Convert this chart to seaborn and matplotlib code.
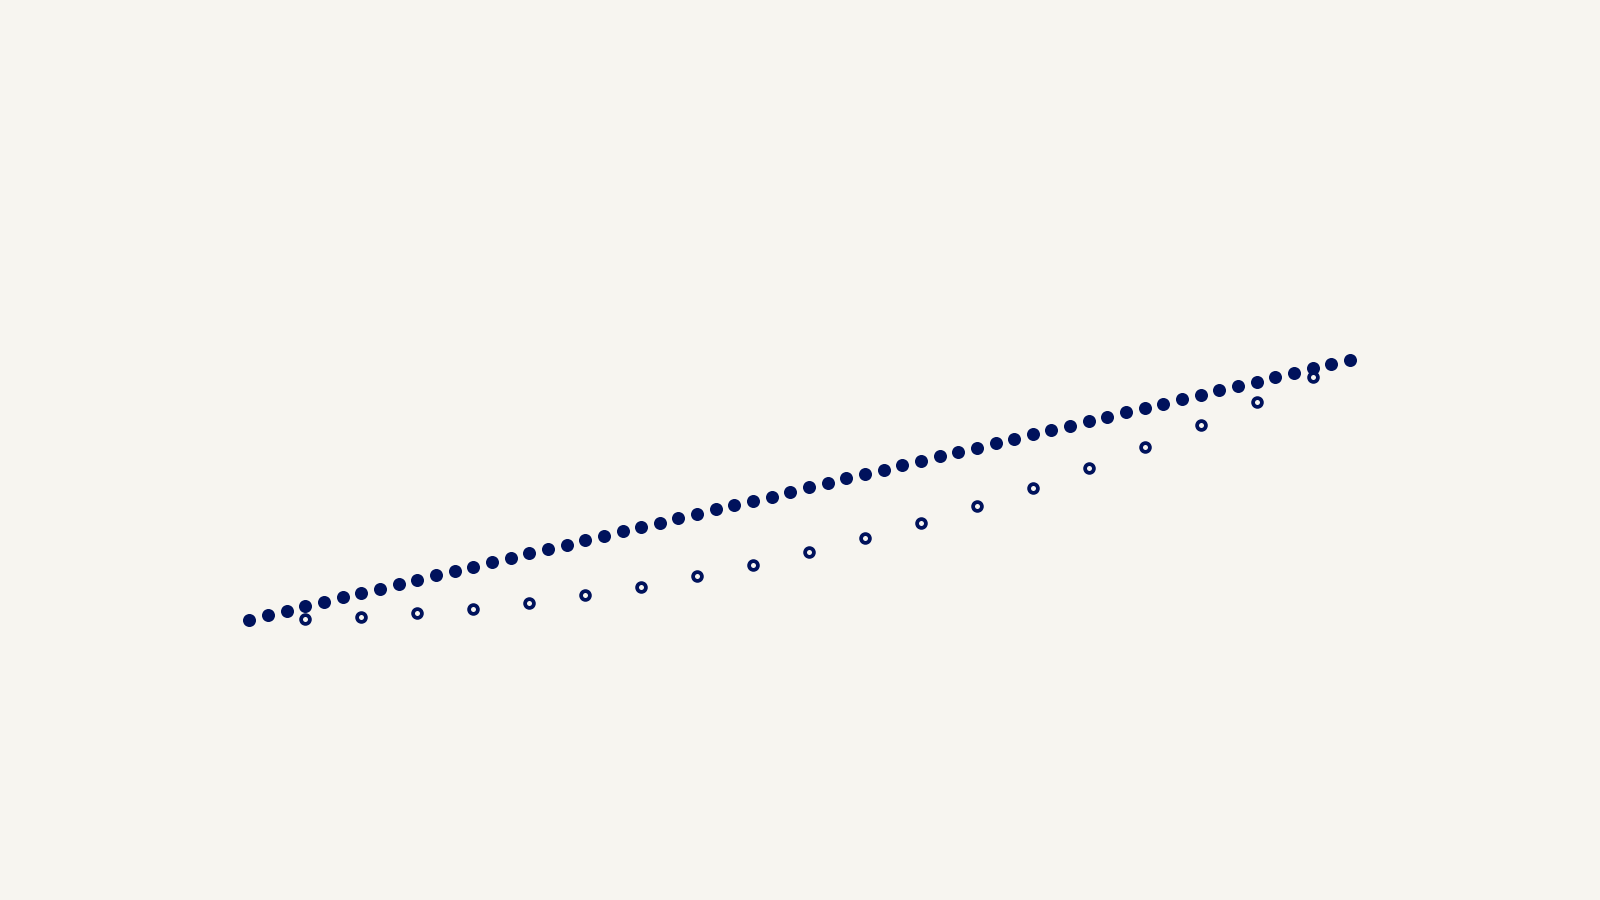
import matplotlib
matplotlib.use("Agg")
import matplotlib.pyplot as plt
import seaborn as sns
import numpy as np
import pandas as pd

# steady series: one point per step (0..59)
steady_step = list(range(60))
steady_level = [280.0, 284.7, 289.0, 294.3, 297.7, 302.7, 306.7, 310.7, 315.7, 320.0,
                324.7, 329.0, 333.0, 337.7, 341.7, 346.7, 351.0, 355.0, 360.0, 364.0,
                369.0, 373.0, 376.7, 381.7, 386.0, 390.7, 395.0, 398.7, 403.3, 407.7,
                412.7, 416.8, 421.7, 425.7, 429.7, 434.7, 438.7, 443.7, 447.7, 451.7,
                456.7, 460.7, 465.7, 469.7, 473.7, 478.7, 482.7, 487.7, 491.7, 495.7,
                500.7, 504.7, 509.7, 513.7, 517.7, 522.7, 526.7, 532.3, 535.7, 539.7]

# sampled series: every third step
sampled_step = list(range(3, 58, 3))
sampled_level = [281.0, 283.0, 287.3, 291.0, 297.0, 305.0, 312.7, 324.0, 335.0, 348.0,
                 362.0, 376.7, 393.7, 411.7, 431.7, 452.7, 474.7, 497.7, 522.7]

navy = "#00125c"
bg = "#f7f5f0"

steady = pd.DataFrame({"step": steady_step, "level": steady_level})
sampled = pd.DataFrame({"step": sampled_step, "level": sampled_level})

sns.set_style("white")
fig = plt.figure(figsize=(16, 9), dpi=100, facecolor=bg)
ax = fig.add_axes([0, 0, 1, 1])
ax.set_facecolor(bg)

sns.scatterplot(data=steady, x="step", y="level", ax=ax,
                color=navy, s=88, linewidth=0, legend=False)
sns.scatterplot(data=sampled, x="step", y="level", ax=ax,
                facecolor=bg, edgecolor=navy, s=40, linewidth=2.7, legend=False)

ax.set_xlim(-249.5 / 18.65, (1600 - 249.5) / 18.65)
ax.set_ylim(0, 900)
ax.axis("off")

fig.savefig("out.png", dpi=100, facecolor=bg)
